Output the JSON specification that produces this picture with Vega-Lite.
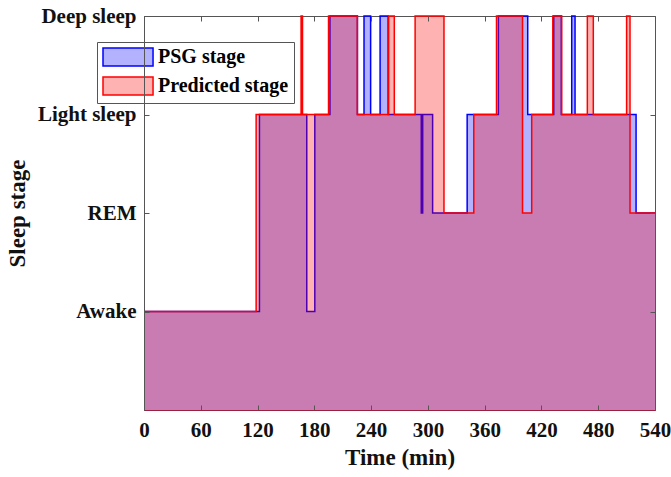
{
  "$schema": "https://vega.github.io/schema/vega-lite/v6.json",
  "width": 511,
  "height": 394,
  "autosize": "none",
  "padding": {"left": 144, "top": 16, "right": 16, "bottom": 67},
  "background": "white",
  "config": {
    "view": {"stroke": "#555", "strokeWidth": 1},
    "font": "Liberation Serif"
  },
  "datasets": {
    "stages": [
      {"series": "PSG stage", "time": 0, "level": 1},
      {"series": "PSG stage", "time": 122, "level": 3},
      {"series": "PSG stage", "time": 172, "level": 1},
      {"series": "PSG stage", "time": 180.5, "level": 3},
      {"series": "PSG stage", "time": 196.5, "level": 4},
      {"series": "PSG stage", "time": 225.5, "level": 3},
      {"series": "PSG stage", "time": 232.5, "level": 4},
      {"series": "PSG stage", "time": 239.5, "level": 3},
      {"series": "PSG stage", "time": 249.5, "level": 4},
      {"series": "PSG stage", "time": 258, "level": 3},
      {"series": "PSG stage", "time": 293, "level": 2},
      {"series": "PSG stage", "time": 294.5, "level": 3},
      {"series": "PSG stage", "time": 305, "level": 2},
      {"series": "PSG stage", "time": 341.5, "level": 3},
      {"series": "PSG stage", "time": 374.5, "level": 4},
      {"series": "PSG stage", "time": 405.5, "level": 3},
      {"series": "PSG stage", "time": 433, "level": 4},
      {"series": "PSG stage", "time": 441, "level": 3},
      {"series": "PSG stage", "time": 452, "level": 4},
      {"series": "PSG stage", "time": 455.5, "level": 3},
      {"series": "PSG stage", "time": 520, "level": 2},
      {"series": "PSG stage", "time": 540, "level": 2},
      {"series": "Predicted stage", "time": 0, "level": 1},
      {"series": "Predicted stage", "time": 118.5, "level": 3},
      {"series": "Predicted stage", "time": 166, "level": 4},
      {"series": "Predicted stage", "time": 167.5, "level": 3},
      {"series": "Predicted stage", "time": 195, "level": 4},
      {"series": "Predicted stage", "time": 225.5, "level": 3},
      {"series": "Predicted stage", "time": 258.5, "level": 4},
      {"series": "Predicted stage", "time": 264.5, "level": 3},
      {"series": "Predicted stage", "time": 286.5, "level": 4},
      {"series": "Predicted stage", "time": 317, "level": 2},
      {"series": "Predicted stage", "time": 348.5, "level": 3},
      {"series": "Predicted stage", "time": 372.5, "level": 4},
      {"series": "Predicted stage", "time": 400, "level": 2},
      {"series": "Predicted stage", "time": 409.7, "level": 3},
      {"series": "Predicted stage", "time": 432, "level": 4},
      {"series": "Predicted stage", "time": 441.4, "level": 3},
      {"series": "Predicted stage", "time": 468.5, "level": 4},
      {"series": "Predicted stage", "time": 474.8, "level": 3},
      {"series": "Predicted stage", "time": 510, "level": 4},
      {"series": "Predicted stage", "time": 513.6, "level": 2},
      {"series": "Predicted stage", "time": 540, "level": 2}
    ]
  },
  "data": {"name": "stages"},
  "layer": [
    {
      "transform": [{"filter": "datum.series === 'PSG stage'"}],
      "mark": {"type": "area", "interpolate": "step-after", "fillOpacity": 0.3, "line": {"strokeWidth": 1.5}},
      "encoding": {
        "x": {
          "field": "time", "type": "quantitative",
          "scale": {"domain": [0, 540], "nice": false, "zero": false},
          "axis": {
            "values": [0, 60, 120, 180, 240, 300, 360, 420, 480, 540],
            "title": "Time (min)", "grid": false, "zindex": 1,
            "domainColor": "#9a2040", "tickColor": "#555", "tickSize": -5, "labelPadding": 14,
            "labelFont": "Liberation Serif", "labelFontSize": 21, "labelFontWeight": "bold", "labelColor": "#111",
            "titleFont": "Liberation Serif", "titleFontSize": 23, "titleFontWeight": "bold", "titleColor": "#111",
            "titlePadding": 6, "labelFlush": false
          }
        },
        "y": {
          "field": "level", "type": "quantitative",
          "scale": {"domain": [0, 4], "nice": false},
          "axis": {
            "values": [1, 2, 3, 4],
            "labelExpr": "datum.value === 4 ? 'Deep sleep' : datum.value === 3 ? 'Light sleep' : datum.value === 2 ? 'REM' : 'Awake'",
            "title": "Sleep stage", "grid": false, "zindex": 1,
            "domainColor": "#555", "tickColor": "#555", "tickSize": -5, "labelPadding": 13,
            "labelFont": "Liberation Serif", "labelFontSize": 21, "labelFontWeight": "bold", "labelColor": "#111",
            "titleFont": "Liberation Serif", "titleFontSize": 23, "titleFontWeight": "bold", "titleColor": "#111",
            "titlePadding": 8, "labelFlush": false
          }
        },
        "color": {
          "field": "series", "type": "nominal",
          "scale": {"domain": ["PSG stage", "Predicted stage"], "range": ["#0000ff", "#ff0000"]},
          "legend": {
            "orient": "none", "legendX": -47, "legendY": 26, "title": null, "direction": "vertical",
            "fillColor": "white", "strokeColor": "#555", "padding": 5,
            "symbolType": "M-1,-1L4.56,-1L4.56,1L-1,1Z", "symbolSize": 324, "symbolStrokeWidth": 1.5,
            "labelFont": "Liberation Serif", "labelFontSize": 20, "labelFontWeight": "bold", "labelColor": "#000",
            "labelOffset": 36, "rowPadding": 5,
            "encode": {
              "symbols": {
                "update": {
                  "fill": {"scale": "color", "field": "value"},
                  "fillOpacity": {"value": 0.3},
                  "stroke": {"scale": "color", "field": "value"},
                  "strokeWidth": {"value": 1.5},
                  "opacity": {"value": 1}
                }
              }
            }
          }
        }
      }
    },
    {
      "transform": [{"filter": "datum.series === 'Predicted stage'"}],
      "mark": {"type": "area", "interpolate": "step-after", "fillOpacity": 0.3, "line": {"strokeWidth": 1.5}},
      "encoding": {
        "x": {
          "field": "time", "type": "quantitative",
          "axis": {
            "orient": "top", "values": [0, 60, 120, 180, 240, 300, 360, 420, 480, 540],
            "labels": false, "title": null, "domain": false, "grid": false, "zindex": 1,
            "tickColor": "#555", "tickSize": -5
          }
        },
        "y": {
          "field": "level", "type": "quantitative",
          "axis": {
            "orient": "right", "values": [1, 2, 3, 4],
            "labels": false, "title": null, "domain": false, "grid": false, "zindex": 1,
            "tickColor": "#555", "tickSize": -5
          }
        },
        "color": {"field": "series", "type": "nominal"}
      }
    }
  ],
  "resolve": {"axis": {"x": "independent", "y": "independent"}}
}
